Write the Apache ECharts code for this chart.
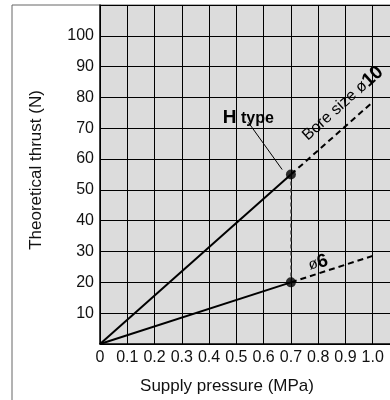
<!DOCTYPE html>
<html>
<head>
<meta charset="utf-8">
<script src="https://cdn.jsdelivr.net/npm/echarts@6/dist/echarts.min.js"></script>
<style>
html,body{margin:0;padding:0;background:#fff;overflow:hidden;}
#chart{width:410px;height:400px;}
</style>
</head>
<body>
<div id="chart"></div>
<script>
// ---- data ----
const xTickLabels = ['0', '0.1', '0.2', '0.3', '0.4', '0.5', '0.6', '0.7', '0.8', '0.9', '1.0'];
const yTickLabels = ['10', '20', '30', '40', '50', '60', '70', '80', '90', '100'];
const bore10Rated = [[0, 0], [0.7, 55]];
const bore10Extended = [[0.7, 55], [1.0, 78.5]];
const bore6Rated = [[0, 0], [0.7, 20]];
const bore6Extended = [[0.7, 20], [1.0, 28.6]];
const connector = [[0.7, 55], [0.7, 20]];
const ratedPoints = [[0.7, 55], [0.7, 20]];
// annotation anchors (data coordinates)
const hTypeLabelAt = [0.544, 73.3];
const hTypeArrow = [[0.544, 71.9], [0.668, 56.6]];
const bore10LabelAt = [0.89, 78.0];
const bore6LabelAt = [0.80, 26.3];

const FONT = 'Liberation Sans, Arial, sans-serif';
const chart = echarts.init(document.getElementById('chart'), null, {renderer: 'canvas'});

const solid = {color: '#000', width: 2};
const dashed = {color: '#000', width: 2, type: [6, 4]};

chart.setOption({
  animation: false,
  backgroundColor: '#fff',
  graphic: [
    {type: 'rect', z: -10, silent: true,
     shape: {x: 12, y: 5, width: 600, height: 600},
     style: {fill: 'transparent', stroke: '#666', lineWidth: 1}},
    {type: 'text', silent: true,
     x: 227, y: 386,
     style: {text: 'Supply pressure (MPa)', font: '17px ' + FONT, fill: '#111',
             align: 'center', verticalAlign: 'middle'}},
    {type: 'text', silent: true,
     x: 36, y: 170, rotation: Math.PI / 2,
     style: {text: 'Theoretical thrust (N)', font: '17px ' + FONT, fill: '#111',
             align: 'center', verticalAlign: 'middle'}}
  ],
  grid: {
    left: 100, width: 300, top: 5, bottom: 56,
    show: true, backgroundColor: '#dcdcdc', borderWidth: 0
  },
  xAxis: {
    type: 'value', min: 0, max: 1.1, interval: 0.1,
    axisLine: {show: true, lineStyle: {color: '#000', width: 1.5}},
    axisTick: {show: false},
    splitLine: {show: true, lineStyle: {color: '#000', width: 1}},
    axisLabel: {
      margin: 6, fontFamily: FONT, fontSize: 16, color: '#111',
      formatter: function (v) {
        const i = Math.round(v * 10);
        return i < xTickLabels.length ? xTickLabels[i] : '';
      }
    }
  },
  yAxis: {
    type: 'value', min: 0, max: 110, interval: 10,
    axisLine: {show: true, lineStyle: {color: '#000', width: 1.5}},
    axisTick: {show: false},
    splitLine: {show: true, lineStyle: {color: '#000', width: 1}},
    axisLabel: {
      margin: 6, fontFamily: FONT, fontSize: 16, color: '#111',
      formatter: function (v) {
        const i = Math.round(v / 10) - 1;
        return (i >= 0 && i < yTickLabels.length) ? yTickLabels[i] : '';
      }
    }
  },
  series: [
    {type: 'line', data: bore10Rated, symbol: 'none', lineStyle: solid, z: 3},
    {type: 'line', data: bore10Extended, symbol: 'none', lineStyle: dashed, z: 3},
    {type: 'line', data: bore6Rated, symbol: 'none', lineStyle: solid, z: 3},
    {type: 'line', data: bore6Extended, symbol: 'none', lineStyle: dashed, z: 3},
    {type: 'line', data: connector, symbol: 'none', z: 3,
     lineStyle: {color: '#444', width: 1.2, type: [4, 3]}},
    {
      type: 'scatter', data: ratedPoints, symbol: 'circle', symbolSize: 10,
      itemStyle: {color: '#000'}, z: 5,
      markLine: {
        silent: true, symbol: ['none', 'arrow'], symbolSize: [0, 12],
        label: {show: false},
        lineStyle: {color: '#000', width: 1, type: 'solid'},
        data: [[{coord: hTypeArrow[0]}, {coord: hTypeArrow[1]}]]
      },
      markPoint: {
        silent: true, symbol: 'circle', symbolSize: 1,
        itemStyle: {color: 'rgba(0,0,0,0)'},
        data: [
          {coord: hTypeLabelAt, label: {
            show: true, position: 'inside', formatter: '{a|H}{b| type}',
            rich: {
              a: {fontFamily: FONT, fontSize: 19, fontWeight: 'bold', color: '#000'},
              b: {fontFamily: FONT, fontSize: 16, fontWeight: 'bold', color: '#000'}
            }
          }},
          {coord: bore10LabelAt, label: {
            show: true, position: 'inside', rotate: 42, formatter: '{a|Bore size ø}{b|10}',
            rich: {
              a: {fontFamily: FONT, fontSize: 16, color: '#000'},
              b: {fontFamily: FONT, fontSize: 19, fontWeight: 'bold', color: '#000'}
            }
          }},
          {coord: bore6LabelAt, label: {
            show: true, position: 'inside', rotate: 17, formatter: '{a|ø}{b|6}',
            rich: {
              a: {fontFamily: FONT, fontSize: 15, color: '#000'},
              b: {fontFamily: FONT, fontSize: 19, fontWeight: 'bold', color: '#000'}
            }
          }}
        ]
      }
    }
  ]
});
</script>
</body>
</html>
